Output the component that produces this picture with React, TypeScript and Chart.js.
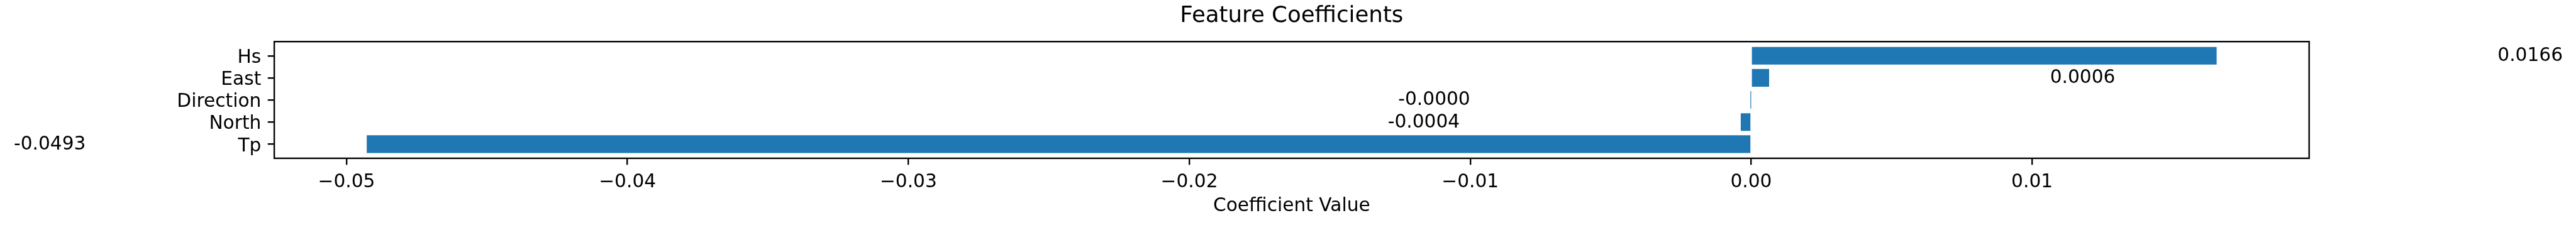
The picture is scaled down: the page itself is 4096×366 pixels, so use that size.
import React, { useEffect, useRef } from 'react';
import { Chart, registerables } from 'chart.js';

Chart.register(...registerables);

// ---- data ----
const features = ['Tp', 'North', 'Direction', 'East', 'Hs'];
const coefficients = [-0.04928, -0.00037, -0.0000003, 0.00064, 0.01657];
const xTickValues = [-0.05, -0.04, -0.03, -0.02, -0.01, 0.0, 0.01];
const titleText = 'Feature Coefficients';
const xAxisTitle = 'Coefficient Value';
const annotationShift = 0.01;

// ---- styling ----
const W = 4096;
const H = 366;
const S = 4096 / 5753;
const FONT = "'DejaVu Sans', sans-serif";
const TICK_FS = 41.667 * S;
const TITLE_FS = 50 * S;
const LINE_W = 3.333 * S;
const TICK_LEN = 14.58 * S;
const BAR_COLOR = '#1f77b4';

const CHART_LEFT = 612.5 * S;
const CHART_RIGHT = 5157 * S;
const CHART_TOP = 93 * S;
const CHART_BOTTOM = 353.8 * S;

const fmtTick = (v: number) => {
  const s = Math.abs(v).toFixed(2);
  return v < -1e-12 ? '\u2212' + s : s;
};

const dMin = Math.min(...coefficients, 0);
const dMax = Math.max(...coefficients, 0);
const span = dMax - dMin;
const xMin = dMin - 0.05 * span;
const xMax = dMax + 0.05 * span;
const yMin = -0.4 - 0.05 * (features.length - 1 + 0.8);
const yMax = features.length - 1 + 0.4 + 0.05 * (features.length - 1 + 0.8);

const framePlugin = {
  id: 'frameAndLabels',
  afterDatasetsDraw(chart: any) {
    const { ctx, chartArea, scales } = chart;
    const x = scales.x;
    const y = scales.y;
    ctx.save();
    ctx.strokeStyle = '#000';
    ctx.lineWidth = LINE_W;
    ctx.lineJoin = 'miter';
    ctx.strokeRect(
      chartArea.left,
      chartArea.top,
      chartArea.right - chartArea.left,
      chartArea.bottom - chartArea.top
    );
    ctx.font = `${TICK_FS}px ${FONT}`;
    ctx.fillStyle = '#000';
    ctx.textBaseline = 'alphabetic';
    coefficients.forEach((v, i) => {
      const pos = v >= 0 ? v + annotationShift : v - annotationShift;
      ctx.textAlign = v >= 0 ? 'left' : 'right';
      ctx.fillText(
        v.toFixed(4),
        x.getPixelForValue(pos),
        y.getPixelForValue(i) + 0.28 * TICK_FS
      );
    });
    ctx.restore();
  },
};

export default function App() {
  const canvasRef = useRef<HTMLCanvasElement | null>(null);

  useEffect(() => {
    const canvas = canvasRef.current;
    if (!canvas) return;
    const titleLineH = TITLE_FS * 1.2;
    const titlePadTop = 49.3 * S - 0.26 * TITLE_FS - titleLineH / 2;
    const titlePadBottom = CHART_TOP - titlePadTop - titleLineH;
    const xTitleLineH = TICK_FS * 1.2;
    const xTitlePadBottom = H - xTitleLineH / 2 - (472.6 * S - 0.26 * TICK_FS);

    const chart = new Chart(canvas, {
      type: 'bar',
      data: {
        datasets: [
          {
            data: features.map((_, i) => ({ x: coefficients[i], y: i })),
            backgroundColor: BAR_COLOR,
            borderWidth: 0,
            categoryPercentage: 1,
            barPercentage: 0.8,
          },
        ],
      },
      plugins: [framePlugin],
      options: {
        indexAxis: 'y',
        responsive: false,
        maintainAspectRatio: false,
        devicePixelRatio: 1,
        animation: false,
        events: [],
        layout: { padding: { left: 0, right: W - CHART_RIGHT, top: 0, bottom: 0 } },
        plugins: {
          legend: { display: false },
          tooltip: { enabled: false },
          title: {
            display: true,
            text: titleText,
            fullSize: false,
            color: '#000',
            font: { family: FONT, size: TITLE_FS, weight: 'normal', lineHeight: 1.2 },
            padding: { top: titlePadTop, bottom: titlePadBottom },
          },
        },
        scales: {
          x: {
            type: 'linear',
            position: 'bottom',
            offset: false,
            min: xMin,
            max: xMax,
            afterBuildTicks: (scale: any) => {
              scale.ticks = xTickValues.map((v) => ({ value: v }));
            },
            afterFit: (scale: any) => {
              scale.height = H - CHART_BOTTOM;
            },
            ticks: {
              autoSkip: false,
              maxRotation: 0,
              minRotation: 0,
              padding: 10.5,
              color: '#000',
              font: { family: FONT, size: TICK_FS },
              callback: (v: any) => fmtTick(Number(v)),
            },
            grid: {
              display: true,
              offset: false,
              drawOnChartArea: false,
              drawTicks: true,
              tickLength: TICK_LEN,
              tickWidth: LINE_W,
              tickColor: '#000',
              color: '#000',
              lineWidth: LINE_W,
            },
            border: { display: false },
            title: {
              display: true,
              text: xAxisTitle,
              color: '#000',
              font: { family: FONT, size: TICK_FS, lineHeight: 1.2 },
              padding: { top: 0, bottom: xTitlePadBottom },
            },
          },
          y: {
            type: 'linear',
            position: 'left',
            offset: false,
            min: yMin,
            max: yMax,
            afterBuildTicks: (scale: any) => {
              scale.ticks = features.map((_, i) => ({ value: i }));
            },
            afterFit: (scale: any) => {
              scale.width = CHART_LEFT;
            },
            ticks: {
              autoSkip: false,
              padding: TICK_LEN,
              labelOffset: 3.5,
              color: '#000',
              font: { family: FONT, size: TICK_FS },
              callback: (v: any) => features[Math.round(Number(v))] ?? '',
            },
            grid: {
              display: true,
              offset: false,
              drawOnChartArea: false,
              drawTicks: true,
              tickLength: TICK_LEN,
              tickWidth: LINE_W,
              tickColor: '#000',
              color: '#000',
              lineWidth: LINE_W,
            },
            border: { display: false },
          },
        },
      },
    } as any);

    return () => {
      chart.destroy();
    };
  }, []);

  return (
    <div style={{ position: 'fixed', left: 0, top: 0, width: W, height: H, background: '#fff' }}>
      <canvas ref={canvasRef} width={W} height={H} style={{ width: W, height: H, display: 'block' }} />
    </div>
  );
}
